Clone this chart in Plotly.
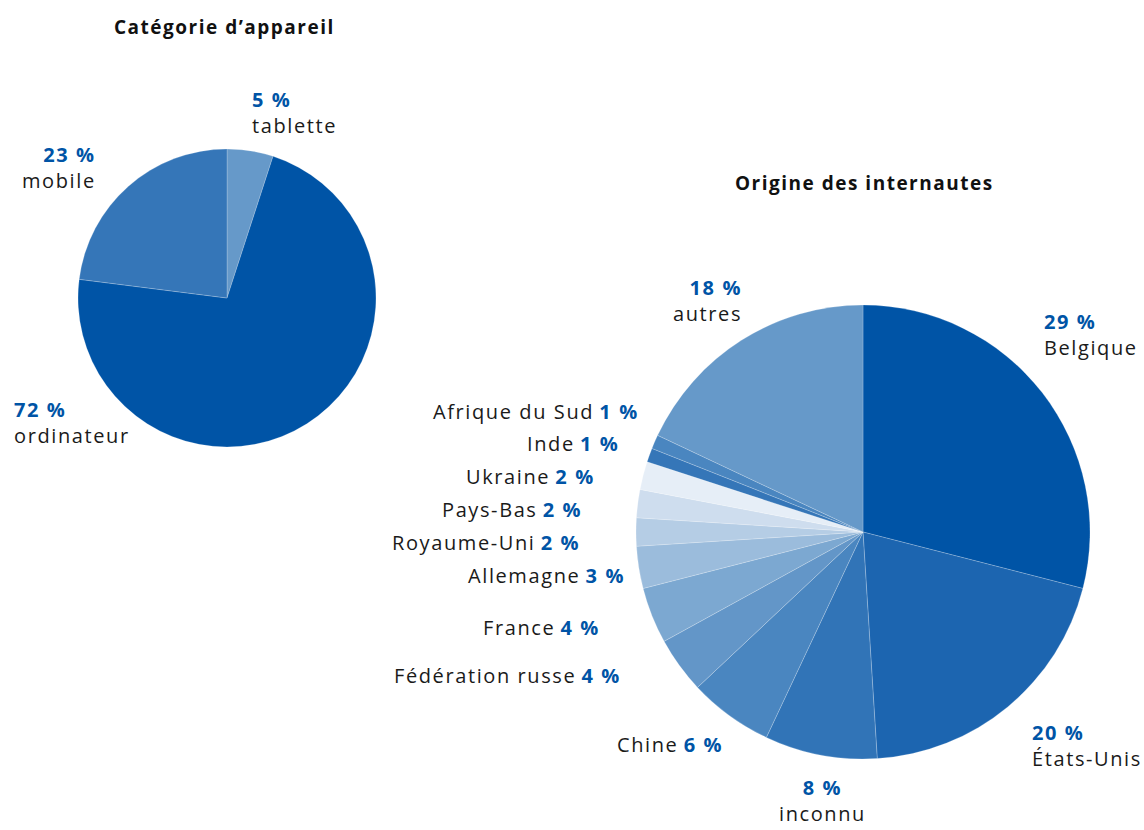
import plotly.graph_objects as go

W, H = 1144, 830

# ---- data ----
device_labels = ["tablette", "ordinateur", "mobile"]
device_values = [5, 72, 23]
device_colors = ["#6699C9", "#0054A6", "#3576B8"]

origin_labels = ["Belgique", "États-Unis", "inconnu", "Chine", "Fédération russe",
                 "France", "Allemagne", "Royaume-Uni", "Pays-Bas", "Ukraine",
                 "Inde", "Afrique du Sud", "autres"]
origin_values = [29, 20, 8, 6, 4, 4, 3, 2, 2, 2, 1, 1, 18]
origin_colors = ["#0054A6", "#1C65B0", "#3174B7", "#4A86C0", "#6396C8",
                 "#7CA8D1", "#9BBCDC", "#B5CDE5", "#CEDDEE", "#E6EEF7",
                 "#3576B8", "#4A86C0", "#6699C9"]

BLUE = "#0054A6"
BLACK = "#1a1a1a"
FONT = "Open Sans"
LS = "1.6px"

fig = go.Figure()

def dom(x0, x1, y0, y1):
    return dict(x=[x0 / W, x1 / W], y=[1 - y1 / H, 1 - y0 / H])

fig.add_trace(go.Pie(
    labels=device_labels, values=device_values, sort=False, direction="clockwise",
    rotation=0, marker=dict(colors=device_colors, line=dict(color="rgba(255,255,255,0.35)", width=0.6)),
    textinfo="none", hoverinfo="label+percent", showlegend=False,
    domain=dom(78, 376, 149, 447),
))

fig.add_trace(go.Pie(
    labels=origin_labels, values=origin_values, sort=False, direction="clockwise",
    rotation=0, marker=dict(colors=origin_colors, line=dict(color="rgba(255,255,255,0.35)", width=0.6)),
    textinfo="none", hoverinfo="label+percent", showlegend=False,
    domain=dom(636, 1090, 305, 759),
))

ann = []

def sp(text, ls=LS, color=None):
    c = f"color:{color};" if color else ""
    return f"<span style='{c}letter-spacing:{ls}'>{text}</span>"

def add(text, x, y, xanchor="left", size=20, color=BLACK, align=None):
    ann.append(dict(text=text, x=x / W, y=1 - y / H, xref="paper", yref="paper",
                    xanchor=xanchor, yanchor="middle", showarrow=False,
                    align=align or xanchor,
                    font=dict(family=FONT, size=size, color=color)))

def stacked(v, name):
    return sp(f"<b>{v} %</b>", color=BLUE) + "<br>" + sp(name)

def inline(name, v):
    return sp(name) + " " + sp(f"<b>{v} %</b>", color=BLUE)

# titles
add(sp("<b>Catégorie d’appareil</b>", "1.5px"), 224, 27, "center", 19, "#111111")
add(sp("<b>Origine des internautes</b>", "1.5px"), 864, 183, "center", 19, "#111111")

# left pie labels
add(stacked(device_values[0], device_labels[0]), 250, 113, "left")
add(stacked(device_values[2], device_labels[2]), 98, 167, "right")
add(stacked(device_values[1], device_labels[1]), 12, 422, "left")

# right pie labels (two-line)
add(stacked(origin_values[12], origin_labels[12]), 744, 300, "right")
add(stacked(origin_values[0], origin_labels[0]), 1042, 334, "left")
add(stacked(origin_values[1], origin_labels[1]), 1030, 745, "left")
add(stacked(origin_values[2], origin_labels[2]), 822, 800, "center")

# right pie labels (inline)
right_side = [
    (11, 641, 411),
    (10, 621, 443),
    (9, 597, 476),
    (8, 584, 509),
    (7, 582, 542),
    (6, 627, 575),
    (5, 602, 627),
    (4, 623, 675),
    (3, 725, 744),
]
for i, x, y in right_side:
    add(inline(origin_labels[i], origin_values[i]), x, y, "right")

fig.update_layout(
    width=W, height=H, margin=dict(l=0, r=0, t=0, b=0),
    paper_bgcolor="white", plot_bgcolor="white",
    annotations=ann, font=dict(family=FONT),
)

fig.write_html("out.html", config={"displayModeBar": False},
               post_script="document.body.style.margin='0';document.body.style.overflow='hidden';")
